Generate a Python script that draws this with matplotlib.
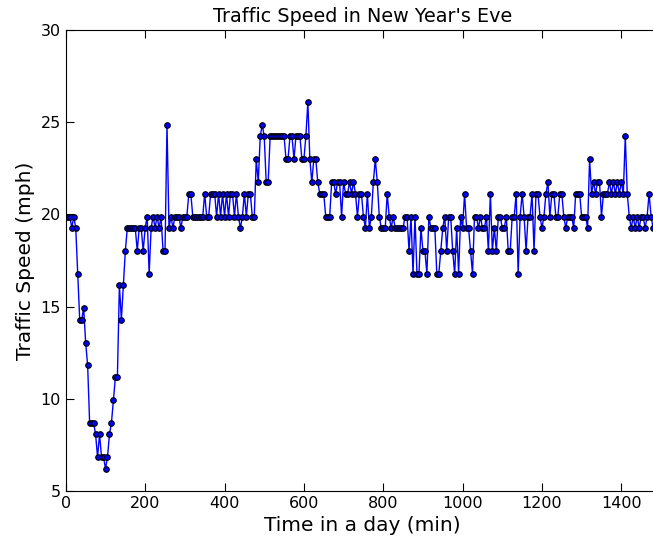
import numpy as np
import matplotlib
matplotlib.use("Agg")
import matplotlib.pyplot as plt

# speed readings every 5 minutes, recorded in km/h
step_min = 5
speed_kmh = [
    32, 32, 32, 31, 32, 31, 27, 23, 23, 24, 21, 19, 14, 14, 14, 13, 11, 13, 11, 11,
    10, 11, 13, 14, 16, 18, 18, 26, 23, 26, 29, 31, 31, 31, 31, 31, 29, 31, 31, 29,
    31, 32, 27, 31, 32, 31, 32, 31, 32, 29, 29, 40, 31, 32, 31, 32, 32, 32, 31, 32,
    32, 32, 34, 34, 32, 32, 32, 32, 32, 32, 34, 32, 32, 34, 34, 34, 32, 34, 32, 34,
    32, 34, 32, 34, 34, 32, 34, 32, 31, 32, 34, 32, 34, 34, 32, 32, 37, 35, 39, 40,
    39, 35, 35, 39, 39, 39, 39, 39, 39, 39, 39, 37, 37, 39, 39, 37, 39, 39, 39, 37,
    37, 39, 42, 37, 35, 37, 37, 35, 34, 34, 34, 32, 32, 32, 35, 35, 34, 35, 35, 32,
    35, 34, 34, 35, 34, 35, 34, 32, 34, 34, 32, 31, 34, 31, 32, 35, 37, 35, 32, 31,
    31, 31, 34, 32, 31, 32, 31, 31, 31, 31, 31, 32, 32, 29, 32, 27, 32, 27, 27, 31,
    29, 29, 27, 32, 31, 31, 31, 27, 27, 29, 31, 32, 29, 32, 32, 29, 27, 31, 27, 32,
    31, 34, 31, 31, 29, 27, 32, 32, 31, 32, 31, 31, 32, 29, 34, 29, 31, 29, 32, 32,
    31, 31, 32, 29, 29, 32, 32, 34, 27, 32, 34, 32, 29, 32, 32, 34, 29, 34, 34, 32,
    31, 32, 34, 35, 32, 34, 34, 32, 32, 34, 34, 32, 31, 32, 32, 32, 31, 34, 34, 34,
    32, 32, 32, 31, 37, 34, 35, 34, 35, 35, 32, 34, 34, 34, 35, 34, 35, 34, 35, 34,
    35, 34, 39, 34, 32, 31, 32, 31, 32, 31, 32, 32, 31, 32, 34, 32, 31,
]

KMH_TO_MPH = 0.621371
speed_mph = np.array(speed_kmh) * KMH_TO_MPH
minutes = np.arange(len(speed_mph)) * step_min

fig = plt.figure(figsize=(6.53, 5.43), dpi=100)
ax = fig.add_axes([0.1008, 0.0958, 0.9084, 0.849])

ax.plot(minutes, speed_mph, "-o", color="b", lw=1.0, markersize=4,
        markerfacecolor="b", markeredgecolor="k", markeredgewidth=0.8)

ax.set_xlim(0, 1495)
ax.set_ylim(5, 30)
ax.set_xticks(np.arange(0, 1401, 200))
ax.set_yticks(np.arange(5, 31, 5))
ax.tick_params(direction="in", top=True, right=False, length=5.5, labelsize=11.5)

ax.set_title("Traffic Speed in New Year's Eve", fontsize=13.8)
ax.set_xlabel("Time in a day (min)", fontsize=14.5)
ax.set_ylabel("Traffic Speed (mph)", fontsize=14.5)

fig.savefig("out.png", dpi=100)
